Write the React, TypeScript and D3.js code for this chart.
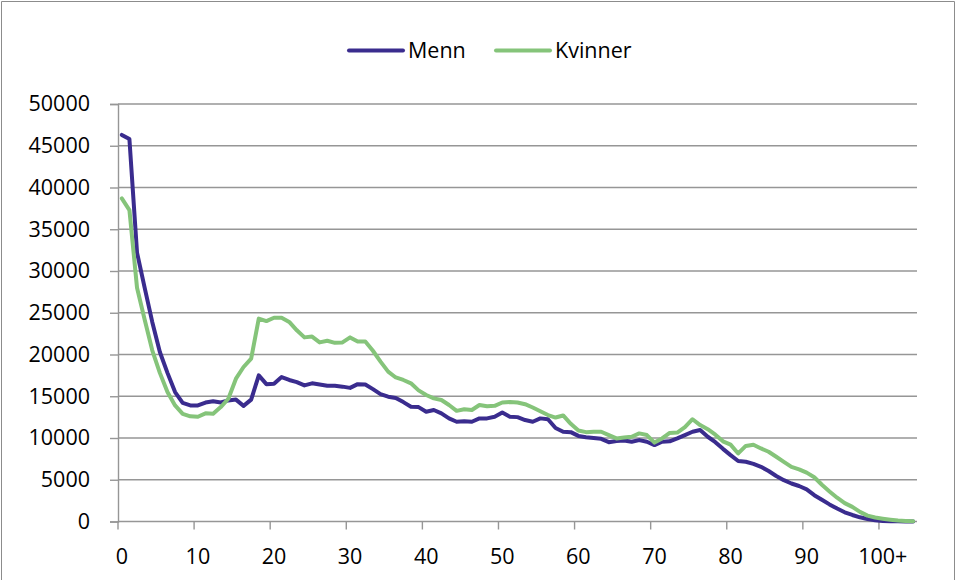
import React, { useEffect, useRef } from "react";
import * as d3 from "d3";

// Population by age (0 .. 100+)
const menn = [
  46300, 45800, 32200, 28000, 23900, 20300, 17800, 15500, 14200, 13900,
  13900, 14250, 14400, 14250, 14500, 14600, 13850, 14600, 17500, 16450,
  16500, 17300, 16950, 16700, 16300, 16550, 16400, 16250, 16250, 16150,
  16000, 16450, 16400, 15850, 15250, 14950, 14800, 14300, 13750, 13700,
  13150, 13350, 12950, 12350, 11950, 12000, 11950, 12350, 12350, 12550,
  13050, 12550, 12500, 12150, 11950, 12350, 12250, 11200, 10750, 10700,
  10250, 10100, 10000, 9900, 9500, 9650, 9700, 9550, 9750, 9550,
  9150, 9550, 9600, 9950, 10350, 10750, 10950, 10150, 9500, 8700,
  7950, 7250, 7150, 6900, 6550, 6050, 5450, 4950, 4550, 4250,
  3850, 3150, 2600, 2050, 1550, 1100, 780, 500, 300, 150,
  70, 30, 15, 8, 4,
];

const kvinner = [
  38700, 37300, 28000, 24200, 20500, 17800, 15500, 13900, 12900, 12600,
  12550, 12950, 12900, 13700, 14700, 17100, 18500, 19500, 24300, 24000,
  24400, 24400, 23900, 22900, 22050, 22150, 21450, 21650, 21400, 21450,
  22050, 21550, 21550, 20450, 19150, 17950, 17250, 16950, 16550, 15700,
  15150, 14750, 14550, 13950, 13250, 13450, 13350, 13950, 13800, 13850,
  14250, 14300, 14250, 14050, 13650, 13200, 12750, 12450, 12700, 11700,
  10900, 10700, 10750, 10750, 10350, 9950, 10050, 10150, 10550, 10350,
  9450, 9950, 10600, 10650, 11300, 12250, 11550, 11050, 10400, 9600,
  9200, 8150, 9050, 9200, 8750, 8350, 7750, 7150, 6550, 6250,
  5850, 5300, 4400, 3600, 2850, 2200, 1750, 1150, 700, 480,
  340, 220, 110, 60, 30,
];

const tickLabels = ["0", "10", "20", "30", "40", "50", "60", "70", "80", "90", "100+"];
const yTicks = [0, 5000, 10000, 15000, 20000, 25000, 30000, 35000, 40000, 45000, 50000];

const series = [
  { name: "Menn", values: menn, color: "#3a2c8e" },
  { name: "Kvinner", values: kvinner, color: "#85c47a" },
];

const W = 956,
  H = 580;
const FONT = "'Open Sans', sans-serif";
const GRID = "#969696";

const App = () => {
  const svgRef = useRef<SVGSVGElement>(null);

  useEffect(() => {
    const svg = d3.select(svgRef.current);
    svg.selectAll("*").remove();

    const margin = { top: 104, right: 39, bottom: 58.5, left: 118 };
    const ages = d3.range(menn.length);

    const x = d3
      .scaleBand<number>()
      .domain(ages)
      .range([margin.left, W - margin.right]);
    const y = d3
      .scaleLinear()
      .domain([0, 50000])
      .range([H - margin.bottom, margin.top]);
    const cx = (i: number) => (x(i) as number) + x.bandwidth() / 2;

    // chart border (bottom edge falls off the picture)
    svg
      .append("path")
      .attr("d", `M1.5,${H + 5}V1.5H954.5V${H + 5}`)
      .attr("fill", "none")
      .attr("stroke", "#8c8c8c")
      .attr("stroke-width", 1);

    // horizontal gridlines
    svg
      .append("g")
      .selectAll("line")
      .data(yTicks.filter((d) => d > 0))
      .join("line")
      .attr("x1", margin.left)
      .attr("x2", W - margin.right)
      .attr("y1", (d) => y(d))
      .attr("y2", (d) => y(d))
      .attr("stroke", GRID)
      .attr("stroke-width", 1.4);

    // y axis
    const yAxis = svg
      .append("g")
      .attr("transform", `translate(${margin.left},0)`)
      .call(d3.axisLeft(y).tickValues(yTicks).tickSize(8).tickPadding(20).tickFormat((d) => String(d)));
    yAxis.select(".domain").attr("stroke", GRID).attr("stroke-width", 1.4);
    yAxis.selectAll(".tick line").attr("stroke", GRID).attr("stroke-width", 1.4);
    yAxis
      .selectAll(".tick text")
      .attr("font-family", FONT)
      .attr("font-size", 21.5)
      .attr("fill", "#000");

    // x axis: tick marks at category edges, labels at category centres
    const xTickIdx = tickLabels.map((_, k) => k * 10);
    const xg = svg.append("g");
    xg.append("line")
      .attr("x1", margin.left)
      .attr("x2", W - margin.right)
      .attr("y1", y(0))
      .attr("y2", y(0))
      .attr("stroke", GRID)
      .attr("stroke-width", 1.4);
    xg.selectAll("line.tick")
      .data(xTickIdx)
      .join("line")
      .attr("class", "tick")
      .attr("x1", (i) => x(i) as number)
      .attr("x2", (i) => x(i) as number)
      .attr("y1", y(0))
      .attr("y2", y(0) + 8)
      .attr("stroke", GRID)
      .attr("stroke-width", 1.4);
    xg.selectAll("text")
      .data(xTickIdx)
      .join("text")
      .attr("x", (i) => cx(i))
      .attr("y", 563.5)
      .attr("text-anchor", "middle")
      .attr("font-family", FONT)
      .attr("font-size", 21.5)
      .attr("fill", "#000")
      .text((_, k) => tickLabels[k]);

    // lines
    const line = d3
      .line<number>()
      .x((_, i) => cx(i))
      .y((d) => y(d));
    svg
      .append("g")
      .selectAll("path")
      .data(series)
      .join("path")
      .attr("d", (s) => line(s.values))
      .attr("fill", "none")
      .attr("stroke", (s) => s.color)
      .attr("stroke-width", 4)
      .attr("stroke-linejoin", "round")
      .attr("stroke-linecap", "round");

    // legend
    const legendX = [349, 496];
    const lg = svg
      .append("g")
      .selectAll("g")
      .data(series)
      .join("g")
      .attr("transform", (_, i) => `translate(${legendX[i]},0)`);
    lg.append("line")
      .attr("x1", 0)
      .attr("x2", 54)
      .attr("y1", 50.5)
      .attr("y2", 50.5)
      .attr("stroke", (s) => s.color)
      .attr("stroke-width", 4)
      .attr("stroke-linecap", "round");
    lg.append("text")
      .attr("x", 59)
      .attr("y", 57.5)
      .attr("font-family", FONT)
      .attr("font-size", 21.5)
      .attr("fill", "#000")
      .text((s) => s.name);
  }, []);

  return (
    <svg
      ref={svgRef}
      width={W}
      height={H}
      style={{ position: "absolute", left: 0, top: 0, background: "#fff" }}
    ></svg>
  );
};

export default App;
